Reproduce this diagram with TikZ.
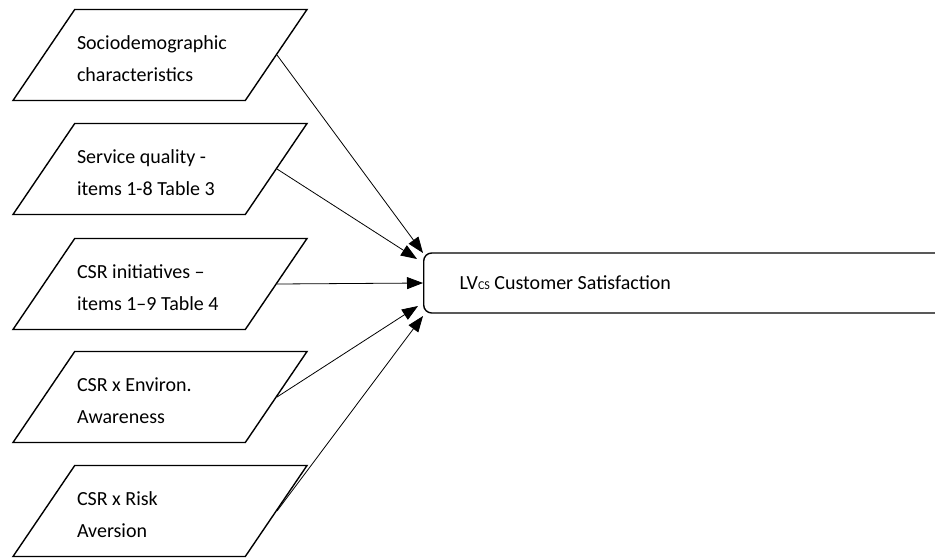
\documentclass[tikz,border=0pt]{standalone}
\usepackage{fontspec}
\setmainfont{Carlito}
\usetikzlibrary{shapes.geometric,arrows.meta}
\newcommand{\boxfont}{\fontsize{20}{32}\selectfont}
\begin{document}
\begin{tikzpicture}[x=1pt,y=-1pt,
    inbox/.style={trapezium, trapezium left angle=55, trapezium right angle=125,
      trapezium stretches body, draw=black, line width=1.4pt, minimum width=294pt,
      minimum height=91pt, text width=166pt, align=flush left, inner xsep=0pt, inner ysep=17pt,
      font=\boxfont, execute at begin node=\rule{0pt}{22pt}},
    outbox/.style={draw=black, line width=1.4pt, rounded corners=8pt, anchor=west,
      minimum height=60pt, text width=480pt, inner xsep=36pt, align=flush left,
      font=\boxfont},
    link/.style={-{Triangle[length=16pt,width=12pt]}, line width=0.8pt}]
    \useasboundingbox (0,0) rectangle (935,558);
    \node[inbox] (socio) at (160,55) {Sociodemographic\\characteristics};
    \node[inbox] (servq) at (160,169) {Service quality -\\items 1-8 Table 3};
    \node[inbox] (csrin) at (160,284) {CSR initiatives --\\items 1--9 Table 4};
    \node[inbox] (csrenv) at (160,397) {CSR x Environ.\\Awareness};
    \node[inbox] (csrrisk) at (160,511) {CSR x Risk\\Aversion};
    \node[outbox] (satis) at (423,283) {LV{\fontsize{12}{12}\selectfont CS} Customer Satisfaction};
    \coordinate (t1) at (423,253);
    \coordinate (t2) at (417,259);
    \coordinate (t4) at (418,306);
    \coordinate (t5) at (423,316);
    \draw[link] (socio.east) -- (t1);
    \draw[link] (servq.east) -- (t2);
    \draw[link] (csrin.east) -- (satis.west);
    \draw[link] (csrenv.east) -- (t4);
    \draw[link] (csrrisk.east) -- (t5);
\end{tikzpicture}
\end{document}
